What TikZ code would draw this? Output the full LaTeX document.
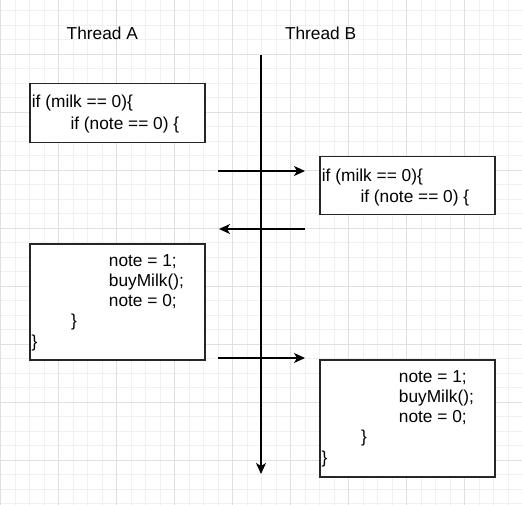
\documentclass[tikz,border=0pt]{standalone}
\usepackage{fontspec}
\setmainfont{Liberation Sans}
\usetikzlibrary{arrows.meta}

\tikzset{
  gridminor/.style={draw=black!6, line width=0.8pt},
  gridmajor/.style={draw=black!12, line width=0.9pt},
  codebox/.style={draw=black!85, line width=1.5pt, fill=white, anchor=north west,
    inner sep=0pt, minimum width=175pt, minimum height=#1},
  code/.style={anchor=base west, inner sep=0pt, font=\fontsize{17.3}{20.2}\selectfont},
  flow/.style={line width=1.5pt, -{Stealth[length=11pt,width=10pt,inset=3pt]}},
}

\begin{document}
\begin{tikzpicture}[x=1pt,y=-1pt]

\useasboundingbox (0,0) rectangle (522,505);

% ===== Lưới nền =====
\foreach \x in {0,...,36} {
    \draw[gridminor] ({0.5+14.5*\x},0) -- ({0.5+14.5*\x},505);
}
\foreach \y in {0,...,35} {
    \draw[gridminor] (0,{-3.7+14.5*\y}) -- (522,{-3.7+14.5*\y});
}
\foreach \x in {0,...,9} {
    \draw[gridmajor] ({0.5+58*\x},0) -- ({0.5+58*\x},505);
}
\foreach \y in {0,...,9} {
    \draw[gridmajor] (0,{-3.7+58*\y}) -- (522,{-3.7+58*\y});
}

% ===== Tiêu đề =====
\node[code] (threadA) at (66.5,39.3) {Thread A};
\node[code] (threadB) at (284.8,39.3) {Thread B};

% ===== Các hộp =====
\node[codebox=59pt] (boxA1) at (29,83) {};
\node[codebox=58pt] (boxB1) at (319,156) {};
\node[codebox=116pt] (boxA2) at (29,243) {};
\node[codebox=117pt] (boxB2) at (319,359) {};

% ===== Mã =====
% Thread A, lần 1
\node[code] (a1l1) at (31.7,108) {if (milk == 0)\{};
\node[code] (a1l2) at (70.3,129.5) {if (note == 0) \{};

% Thread B, lần 1
\node[code] (b1l1) at (321.7,181.7) {if (milk == 0)\{};
\node[code] (b1l2) at (360.3,202.5) {if (note == 0) \{};

% Thread A, lần 2
\node[code] (a2l1) at (108.7,266) {note = 1;};
\node[code] (a2l2) at (108.7,286.2) {buyMilk();};
\node[code] (a2l3) at (108.7,306.4) {note = 0;};
\node[code] (a2l4) at (70.8,326.8) {\}};
\node[code] (a2l5) at (31.5,347.4) {\}};

% Thread B, lần 2
\node[code] (b2l1) at (398.7,382) {note = 1;};
\node[code] (b2l2) at (398.7,402.2) {buyMilk();};
\node[code] (b2l3) at (398.7,422.4) {note = 0;};
\node[code] (b2l4) at (360.8,442.8) {\}};
\node[code] (b2l5) at (321.5,463.4) {\}};

% ===== Trục thời gian và mũi tên =====
\coordinate (tlTop) at (261,55);
\coordinate (tlEnd) at (261,474);
\draw[flow] (tlTop) -- (tlEnd);

\coordinate (go1) at (218,171);
\coordinate (to1) at (305,171);
\draw[flow] (go1) -- (to1);

\coordinate (go2) at (305,229);
\coordinate (to2) at (219,229);
\draw[flow] (go2) -- (to2);

\coordinate (go3) at (218,358);
\coordinate (to3) at (305,358);
\draw[flow] (go3) -- (to3);

\end{tikzpicture}
\end{document}
